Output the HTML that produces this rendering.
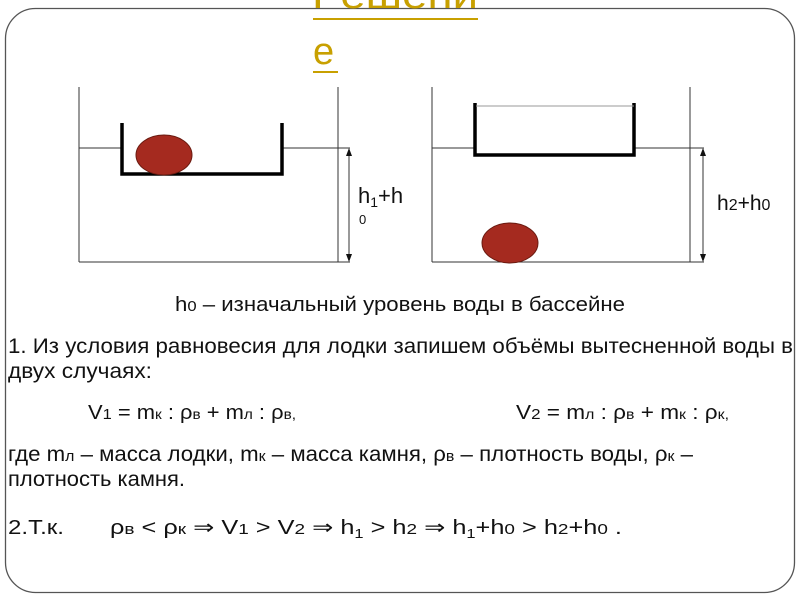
<!DOCTYPE html>
<html><head><meta charset="utf-8"><style>
body{margin:0;background:#fff;width:800px;height:600px;overflow:hidden}
svg{display:block}
text{font-family:"Liberation Sans",sans-serif;fill:#111}
</style></head><body>
<svg width="800" height="600" viewBox="0 0 800 600">
<rect x="5.5" y="8.5" width="789" height="584" rx="30" fill="none" stroke="#555" stroke-width="1.3"/>
<text x="312" y="8" font-size="38" style="fill:#c8a000" textLength="166" lengthAdjust="spacingAndGlyphs">Решени</text>
<line x1="313" y1="19" x2="478" y2="19" stroke="#c8a000" stroke-width="2"/>
<text x="313" y="64" font-size="38" style="fill:#c8a000">е</text>
<line x1="313" y1="72" x2="338" y2="72" stroke="#c8a000" stroke-width="2"/>
<g stroke="#333" stroke-width="1" fill="none">
<line x1="79" y1="87" x2="79" y2="262"/><line x1="338" y1="87" x2="338" y2="262"/>
<line x1="79" y1="262" x2="350" y2="262"/>
<line x1="79" y1="148" x2="122" y2="148"/><line x1="282" y1="148" x2="350" y2="148"/>
<line x1="432" y1="87" x2="432" y2="262"/><line x1="690" y1="87" x2="690" y2="262"/>
<line x1="432" y1="262" x2="704" y2="262"/>
<line x1="432" y1="148" x2="475" y2="148"/><line x1="634" y1="148" x2="704" y2="148"/>
<line x1="349" y1="152" x2="349" y2="258"/><line x1="703" y1="152" x2="703" y2="258"/>
</g>
<g fill="#111">
<polygon points="349,148 346,156 352,156"/><polygon points="349,262 346,254 352,254"/>
<polygon points="703,148 700,156 706,156"/><polygon points="703,262 700,254 706,254"/>
</g>
<polyline points="122,123 122,174 282,174 282,123" fill="none" stroke="#000" stroke-width="3.5"/>
<polyline points="475,103 475,155 634,155 634,103" fill="none" stroke="#000" stroke-width="3.5"/>
<line x1="476" y1="106" x2="634" y2="106" stroke="#999" stroke-width="1"/>
<ellipse cx="164" cy="155" rx="28" ry="20" fill="#a52a1f" stroke="#6a1a10" stroke-width="1"/>
<ellipse cx="510" cy="243" rx="28" ry="20" fill="#a52a1f" stroke="#6a1a10" stroke-width="1"/>
<text x="358" y="203" font-size="22">h<tspan font-size="14" dy="4">1</tspan><tspan dy="-4">+h</tspan></text>
<text x="359" y="224" font-size="13">0</text>
<text x="717" y="210" font-size="21">h<tspan font-size="16">2</tspan>+h<tspan font-size="16">0</tspan></text>
<text x="175" y="311" font-size="20" textLength="450" lengthAdjust="spacingAndGlyphs">h<tspan font-size="15">0</tspan> – изначальный уровень воды в бассейне</text>
<text x="8" y="353" font-size="21" textLength="785" lengthAdjust="spacingAndGlyphs">1. Из условия равновесия для лодки запишем объёмы вытесненной воды в</text>
<text x="8" y="378" font-size="21" textLength="144" lengthAdjust="spacingAndGlyphs">двух случаях:</text>
<text x="88" y="419" font-size="20" textLength="208" lengthAdjust="spacingAndGlyphs">V<tspan font-size="15">1</tspan> = m<tspan font-size="14">к</tspan> : ρ<tspan font-size="14">в</tspan> + m<tspan font-size="14">л</tspan> : ρ<tspan font-size="14">в,</tspan></text>
<text x="516" y="419" font-size="20" textLength="213" lengthAdjust="spacingAndGlyphs">V<tspan font-size="15">2</tspan> = m<tspan font-size="14">л</tspan> : ρ<tspan font-size="14">в</tspan>  + m<tspan font-size="14">к</tspan> : ρ<tspan font-size="14">к,</tspan></text>
<text x="8" y="461" font-size="21" textLength="685" lengthAdjust="spacingAndGlyphs">где m<tspan font-size="15">л</tspan> – масса лодки, m<tspan font-size="15">к</tspan> – масса камня, ρ<tspan font-size="15">в</tspan> – плотность воды, ρ<tspan font-size="15">к</tspan> –</text>
<text x="8" y="486" font-size="21" textLength="177" lengthAdjust="spacingAndGlyphs">плотность камня.</text>
<text x="8" y="534" font-size="20" textLength="56" lengthAdjust="spacingAndGlyphs">2.Т.к.</text>
<text x="110" y="534" font-size="20" textLength="512" lengthAdjust="spacingAndGlyphs">ρ<tspan font-size="15">в</tspan> &lt; ρ<tspan font-size="15">к</tspan>  ⇒  V<tspan font-size="15">1</tspan> &gt; V<tspan font-size="15">2</tspan> ⇒  h<tspan font-size="13" dy="4">1</tspan><tspan dy="-4"> &gt; h</tspan><tspan font-size="15">2</tspan>  ⇒  h<tspan font-size="13" dy="4">1</tspan><tspan dy="-4">+h</tspan><tspan font-size="15">0</tspan> &gt; h<tspan font-size="15">2</tspan>+h<tspan font-size="15">0</tspan> .</text>
</svg>
</body></html>
